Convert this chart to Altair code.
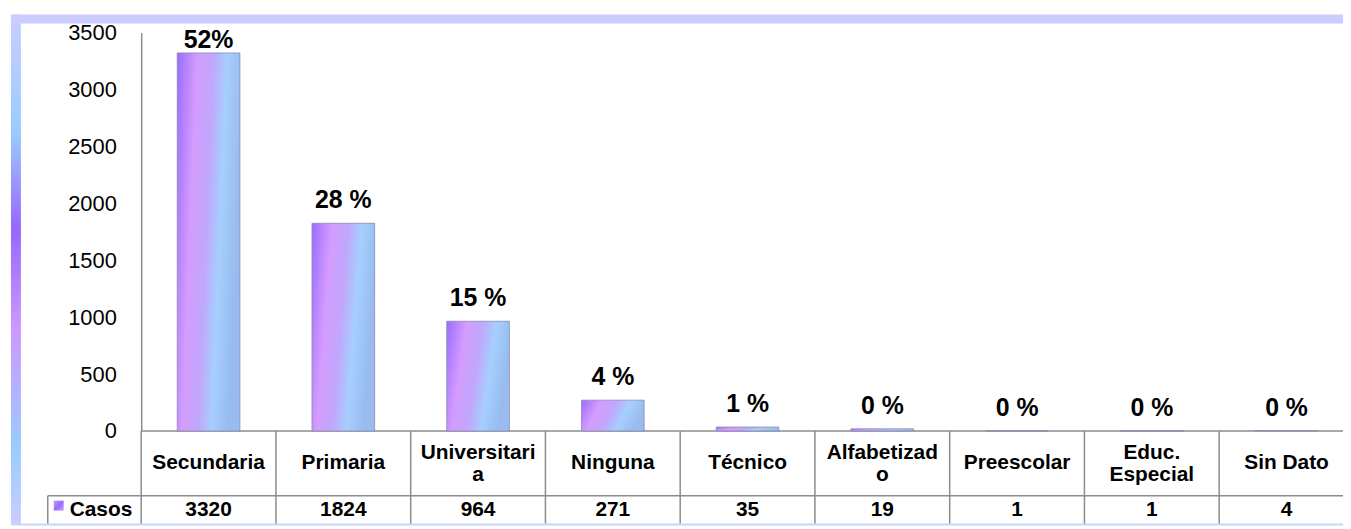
import altair as alt
import pandas as pd

cats = ["Secundaria", "Primaria", "Universitaria", "Ninguna", "Técnico",
        "Alfabetizado", "Preescolar", "Educ. Especial", "Sin Dato"]
labels = ["Secundaria", "Primaria", "Universitari\na", "Ninguna", "Técnico",
          "Alfabetizad\no", "Preescolar", "Educ.\nEspecial", "Sin Dato"]
casos = [3320, 1824, 964, 271, 35, 19, 1, 1, 4]
pct = ["52%", "28 %", "15 %", "4 %", "1 %", "0 %", "0 %", "0 %", "0 %"]
y_ticks = [0, 500, 1000, 1500, 2000, 2500, 3000, 3500]
series_name = "Casos"

df = pd.DataFrame({"cat": cats, "label": labels, "casos": casos, "pct": pct})
one = pd.DataFrame({"k": [0]})

FONT = "Liberation Sans"
GRID = "#8c8c8c"
XR = 1220
XEND = 1220

xscale = alt.Scale(paddingInner=0, paddingOuter=0, range=[0, XR])
xenc = alt.X("cat:N", sort=cats, scale=xscale, axis=None)
yscale = alt.Scale(domain=[0, 3500], nice=False, zero=True)
yaxis = alt.Axis(values=y_ticks, format="d", title=None, grid=False, ticks=False,
                 domainColor=GRID, domainWidth=1.5,
                 labelFont=FONT, labelFontSize=22, labelColor="#000",
                 labelPadding=25)

bar_grad = {
    "gradient": "linear", "x1": 0, "y1": 0, "x2": 1, "y2": 0.25,
    "stops": [
        {"offset": 0.0, "color": "#9a6cff"},
        {"offset": 0.3, "color": "#d49cff"},
        {"offset": 0.55, "color": "#c0a8fb"},
        {"offset": 0.75, "color": "#a6cfff"},
        {"offset": 1.0, "color": "#98bcef"},
    ],
}

bars = alt.Chart(df).mark_bar(
    width=alt.RelativeBandSize(0.465), color=bar_grad,
    stroke="#8a8ab0", strokeWidth=0.8
).encode(
    x=xenc,
    y=alt.Y("casos:Q", scale=yscale, axis=yaxis),
)

pct_text = alt.Chart(df).transform_calculate(
    lab="min(datum.casos + 131, 3360)"
).mark_text(
    font=FONT, fontSize=25, fontWeight="bold", baseline="alphabetic",
    color="#000"
).encode(
    x=xenc,
    y=alt.Y("lab:Q", scale=yscale, axis=yaxis),
    text="pct:N",
)

cat_text_1 = alt.Chart(df).transform_filter(
    "indexof(datum.label, '\\n') < 0"
).mark_text(
    font=FONT, fontSize=21, fontWeight="bold", baseline="middle", color="#000"
).encode(x=xenc, y=alt.value(433), text="label:N")

cat_text_2 = alt.Chart(df).transform_filter(
    "indexof(datum.label, '\\n') >= 0"
).mark_text(
    font=FONT, fontSize=21, fontWeight="bold", baseline="middle",
    lineBreak="\n", lineHeight=22, color="#000"
).encode(x=xenc, y=alt.value(423), text="label:N")

val_text = alt.Chart(df).mark_text(
    font=FONT, fontSize=21, fontWeight="bold", baseline="middle", color="#000"
).encode(x=xenc, y=alt.value(480), text="casos:Q")

vlines = alt.Chart(df).mark_rule(color=GRID, strokeWidth=1.5).encode(
    x=alt.X("cat:N", sort=cats, bandPosition=0, scale=xscale, axis=None),
    y=alt.value(401), y2=alt.value(494),
)

base = alt.Chart(one)
hline_top = base.mark_rule(color=GRID, strokeWidth=1.5).encode(
    x=alt.value(0), x2=alt.value(XEND), y=alt.value(401))
hline_row = base.mark_rule(color=GRID, strokeWidth=1.5).encode(
    x=alt.value(-94), x2=alt.value(XEND), y=alt.value(466))
vline_left = base.mark_rule(color=GRID, strokeWidth=1.5).encode(
    x=alt.value(-94), y=alt.value(466), y2=alt.value(494))

swatch = base.mark_rect(color={
    "gradient": "linear", "x1": 0, "y1": 0, "x2": 1, "y2": 1,
    "stops": [{"offset": 0, "color": "#b9a6f5"},
              {"offset": 0.5, "color": "#9a6cff"},
              {"offset": 1, "color": "#c49cff"}]
}).encode(x=alt.value(-88), x2=alt.value(-78), y=alt.value(471), y2=alt.value(481))

casos_text = base.mark_text(
    font=FONT, fontSize=21, fontWeight="bold", baseline="middle", align="left",
    color="#000"
).encode(x=alt.value(-72), y=alt.value(480), text=alt.value(series_name))

frame_left = base.mark_rect(color={
    "gradient": "linear", "x1": 0, "y1": 0, "x2": 0, "y2": 1,
    "stops": [{"offset": 0, "color": "#ccccff"},
              {"offset": 0.23, "color": "#99ccff"},
              {"offset": 0.42, "color": "#9966ff"},
              {"offset": 0.62, "color": "#cc99ff"},
              {"offset": 0.85, "color": "#99ccff"},
              {"offset": 1, "color": "#ccccff"}]
}).encode(x=alt.value(-131), x2=alt.value(-121), y=alt.value(-18), y2=alt.value(495))

frame_top = base.mark_rect(color="#ccccff", cornerRadiusTopLeft=3).encode(
    x=alt.value(-131), x2=alt.value(XEND), y=alt.value(-18), y2=alt.value(-9))

frame_bottom = base.mark_rule(color="#c8d4ff", strokeWidth=2).encode(
    x=alt.value(-131), x2=alt.value(XEND), y=alt.value(495))

chart = alt.layer(
    frame_left, frame_top, frame_bottom,
    hline_top, hline_row, vline_left, vlines,
    bars, pct_text, cat_text_1, cat_text_2, val_text, swatch, casos_text,
).properties(
    width=1209, height=401,
    autosize=alt.AutoSizeParams(type="none"),
    padding={"left": 134, "top": 23, "right": 0, "bottom": 97},
    background="white",
).configure_view(stroke=None)

chart.save("out.html", embed_options={"renderer": "svg", "actions": False})
